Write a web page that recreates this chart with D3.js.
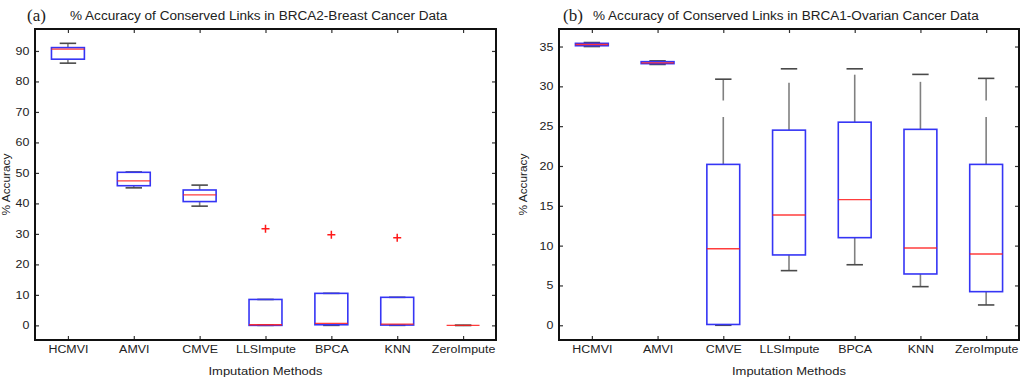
<!DOCTYPE html>
<html>
<head>
<meta charset="utf-8">
<script src="https://cdn.jsdelivr.net/npm/d3@7"></script>
<style>
  body { margin: 0; background: #fff; }
  svg { display: block; font-family: "Liberation Sans", Arial, sans-serif; }
</style>
</head>
<body>
<div id="container"></div>
<script>
// categories
const methods = ["HCMVI", "AMVI", "CMVE", "LLSImpute", "BPCA", "KNN", "ZeroImpute"]

// (a) BRCA2 - Breast cancer, box stats per method
const brca2Low    = [86.0, 45.1, 39.1, 0.0, 0.0, 0.0, 0.0]
const brca2Q1     = [87.3, 45.8, 40.6, 0.0, 0.2, 0.1, 0.0]
const brca2Median = [90.6, 47.4, 42.8, 0.2, 0.65, 0.4, 0.0]
const brca2Q3     = [91.1, 50.2, 44.4, 8.5, 10.5, 9.2, 0.0]
const brca2High   = [92.5, 50.3, 46.0, 8.5, 10.5, 9.2, 0.0]
const brca2Outliers = [[], [], [], [31.7], [29.7], [28.7], []]
const brca2Ticks  = [0, 10, 20, 30, 40, 50, 60, 70, 80, 90]

// (b) BRCA1 - Ovarian cancer
const brca1Low    = [35.0, 32.75, 0.0, 6.86, 7.6, 4.85, 2.55]
const brca1Q1     = [35.1, 32.85, 0.1, 8.83, 11.0, 6.44, 4.22]
const brca1Median = [35.25, 32.95, 9.6, 13.85, 15.78, 9.7, 8.95]
const brca1Q3     = [35.4, 33.1, 20.2, 24.5, 25.5, 24.6, 20.2]
const brca1High   = [35.5, 33.2, 30.9, 32.2, 32.2, 31.5, 31.0]
const brca1Outliers = [[], [], [], [], [], [], []]
const brca1Ticks  = [0, 5, 10, 15, 20, 25, 30, 35]

let width = 1020
let height = 378

let svg = d3.select("#container")
    .append("svg")
    .attr("width", width)
    .attr("height", height)

let boxColor = "#3535f5"
let medColor = "#ff1a1a"
let textColor = "#222"
let sx = 1.13  // the source text looks horizontally stretched

function drawPanel(p) {
    let x = d3.scaleLinear().domain([0.5, 7.5]).range([p.left, p.right])
    let y = d3.scaleLinear().domain(p.ydomain).range([p.bottom, p.top])

    let rows = methods.map((m, i) => ({
        name: m, pos: i + 1,
        low: p.low[i], q1: p.q1[i], med: p.med[i], q3: p.q3[i], high: p.high[i],
        out: p.out[i]
    }))

    let g = svg.append("g")
    let hw = (x(1.25) - x(1))   // box half width 0.25
    let cw = (x(1.125) - x(1))  // cap half width

    // whiskers (dashed, drawn out from the box)
    g.append("g").selectAll("line")
        .data(rows.flatMap(d => [[d, d.q3, d.high], [d, d.q1, d.low]]))
        .join("line")
            .attr("x1", d => x(d[0].pos))
            .attr("x2", d => x(d[0].pos))
            .attr("y1", d => y(d[1]))
            .attr("y2", d => y(d[2]))
            .attr("stroke", "#808080")
            .attr("stroke-width", 1.6)
            .attr("stroke-dasharray", "47.5,16.5")

    // caps
    g.append("g").selectAll("line")
        .data(rows.flatMap(d => [[d, d.high], [d, d.low]]))
        .join("line")
            .attr("x1", d => x(d[0].pos) - cw)
            .attr("x2", d => x(d[0].pos) + cw)
            .attr("y1", d => y(d[1]))
            .attr("y2", d => y(d[1]))
            .attr("stroke", "#4a4a4a")
            .attr("stroke-width", 1.6)

    // boxes
    g.append("g").selectAll("rect")
        .data(rows)
        .join("rect")
            .attr("x", d => x(d.pos) - hw)
            .attr("y", d => y(d.q3))
            .attr("width", 2 * hw)
            .attr("height", d => y(d.q1) - y(d.q3))
            .attr("fill", "none")
            .attr("stroke", boxColor)
            .attr("stroke-width", 1.6)

    // medians
    g.append("g").selectAll("line")
        .data(rows)
        .join("line")
            .attr("x1", d => x(d.pos) - hw)
            .attr("x2", d => x(d.pos) + hw)
            .attr("y1", d => y(d.med))
            .attr("y2", d => y(d.med))
            .attr("stroke", medColor)
            .attr("stroke-width", 1.4)
            .attr("stroke-opacity", 0.85)

    // outliers
    g.append("g").selectAll("path")
        .data(rows.flatMap(d => d.out.map(v => [d.pos, v])))
        .join("path")
            .attr("d", d => `M${x(d[0]) - 4},${y(d[1])}h8M${x(d[0])},${y(d[1]) - 4}v8`)
            .attr("stroke", medColor)
            .attr("stroke-width", 1.5)

    // axes, ticks point inward
    let yl = g.append("g")
        .attr("transform", `translate(${p.left},0)`)
        .call(d3.axisLeft(y).tickValues(p.ticks).tickSize(-4).tickSizeOuter(0).tickPadding(5))
    let yr = g.append("g")
        .attr("transform", `translate(${p.right},0)`)
        .call(d3.axisRight(y).tickValues(p.ticks).tickSize(-4).tickSizeOuter(0).tickFormat(""))
    let xb = g.append("g")
        .attr("transform", `translate(0,${p.bottom})`)
        .call(d3.axisBottom(x).tickValues(d3.range(1, 8)).tickSize(-4).tickSizeOuter(0)
            .tickPadding(5).tickFormat(i => methods[i - 1]))
    let xt = g.append("g")
        .attr("transform", `translate(0,${p.top})`)
        .call(d3.axisTop(x).tickValues(d3.range(1, 8)).tickSize(-4).tickSizeOuter(0).tickFormat(""))

    for (let a of [yl, yr, xb, xt]) {
        a.select(".domain").remove()
        a.selectAll("line").attr("stroke", "#333").attr("stroke-width", 1.2)
        a.selectAll("text")
            .attr("fill", textColor)
            .attr("font-size", 11)
            .attr("font-family", "'Liberation Sans', Arial, sans-serif")
    }
    yl.selectAll("text").attr("transform", `scale(${sx},1)`)
    xb.selectAll("text").attr("transform", `scale(${sx},1)`).attr("dy", "0.72em")

    g.append("rect")
        .attr("x", p.left).attr("y", p.top)
        .attr("width", p.right - p.left).attr("height", p.bottom - p.top)
        .attr("fill", "none").attr("stroke", "#111").attr("stroke-width", 2)

    // labels
    g.append("text")
        .attr("transform", `translate(${(p.left + p.right) / 2},${p.bottom + 35}) scale(${sx},1)`)
        .attr("text-anchor", "middle")
        .attr("font-size", 11.5)
        .attr("fill", textColor)
        .text("Imputation Methods")

    g.append("text")
        .attr("transform", `translate(${p.ylabX},${(p.top + p.bottom) / 2}) rotate(-90) scale(${sx},1)`)
        .attr("text-anchor", "middle")
        .attr("font-size", 10.5)
        .attr("fill", textColor)
        .text("% Accuracy")

    g.append("text")
        .attr("transform", `translate(${p.tagX},21)`)
        .attr("font-family", "'Liberation Serif', 'Times New Roman', serif")
        .attr("font-size", 17)
        .attr("fill", textColor)
        .text(p.tag)

    g.append("text")
        .attr("transform", `translate(${p.titleX},20) scale(${sx},1)`)
        .attr("font-size", 12)
        .attr("fill", textColor)
        .text(p.title)
}

drawPanel({
    left: 35, right: 496, top: 29, bottom: 340,
    ydomain: [-4.8, 97.2], ticks: brca2Ticks,
    low: brca2Low, q1: brca2Q1, med: brca2Median, q3: brca2Q3, high: brca2High, out: brca2Outliers,
    tag: "(a)", tagX: 27, title: "% Accuracy of Conserved Links in BRCA2-Breast Cancer Data", titleX: 70,
    ylabX: 10
})

drawPanel({
    left: 559, right: 1019, top: 29, bottom: 340,
    ydomain: [-1.85, 37.2], ticks: brca1Ticks,
    low: brca1Low, q1: brca1Q1, med: brca1Median, q3: brca1Q3, high: brca1High, out: brca1Outliers,
    tag: "(b)", tagX: 563, title: "% Accuracy of Conserved Links in BRCA1-Ovarian Cancer Data", titleX: 593,
    ylabX: 527
})
</script>
</body>
</html>
